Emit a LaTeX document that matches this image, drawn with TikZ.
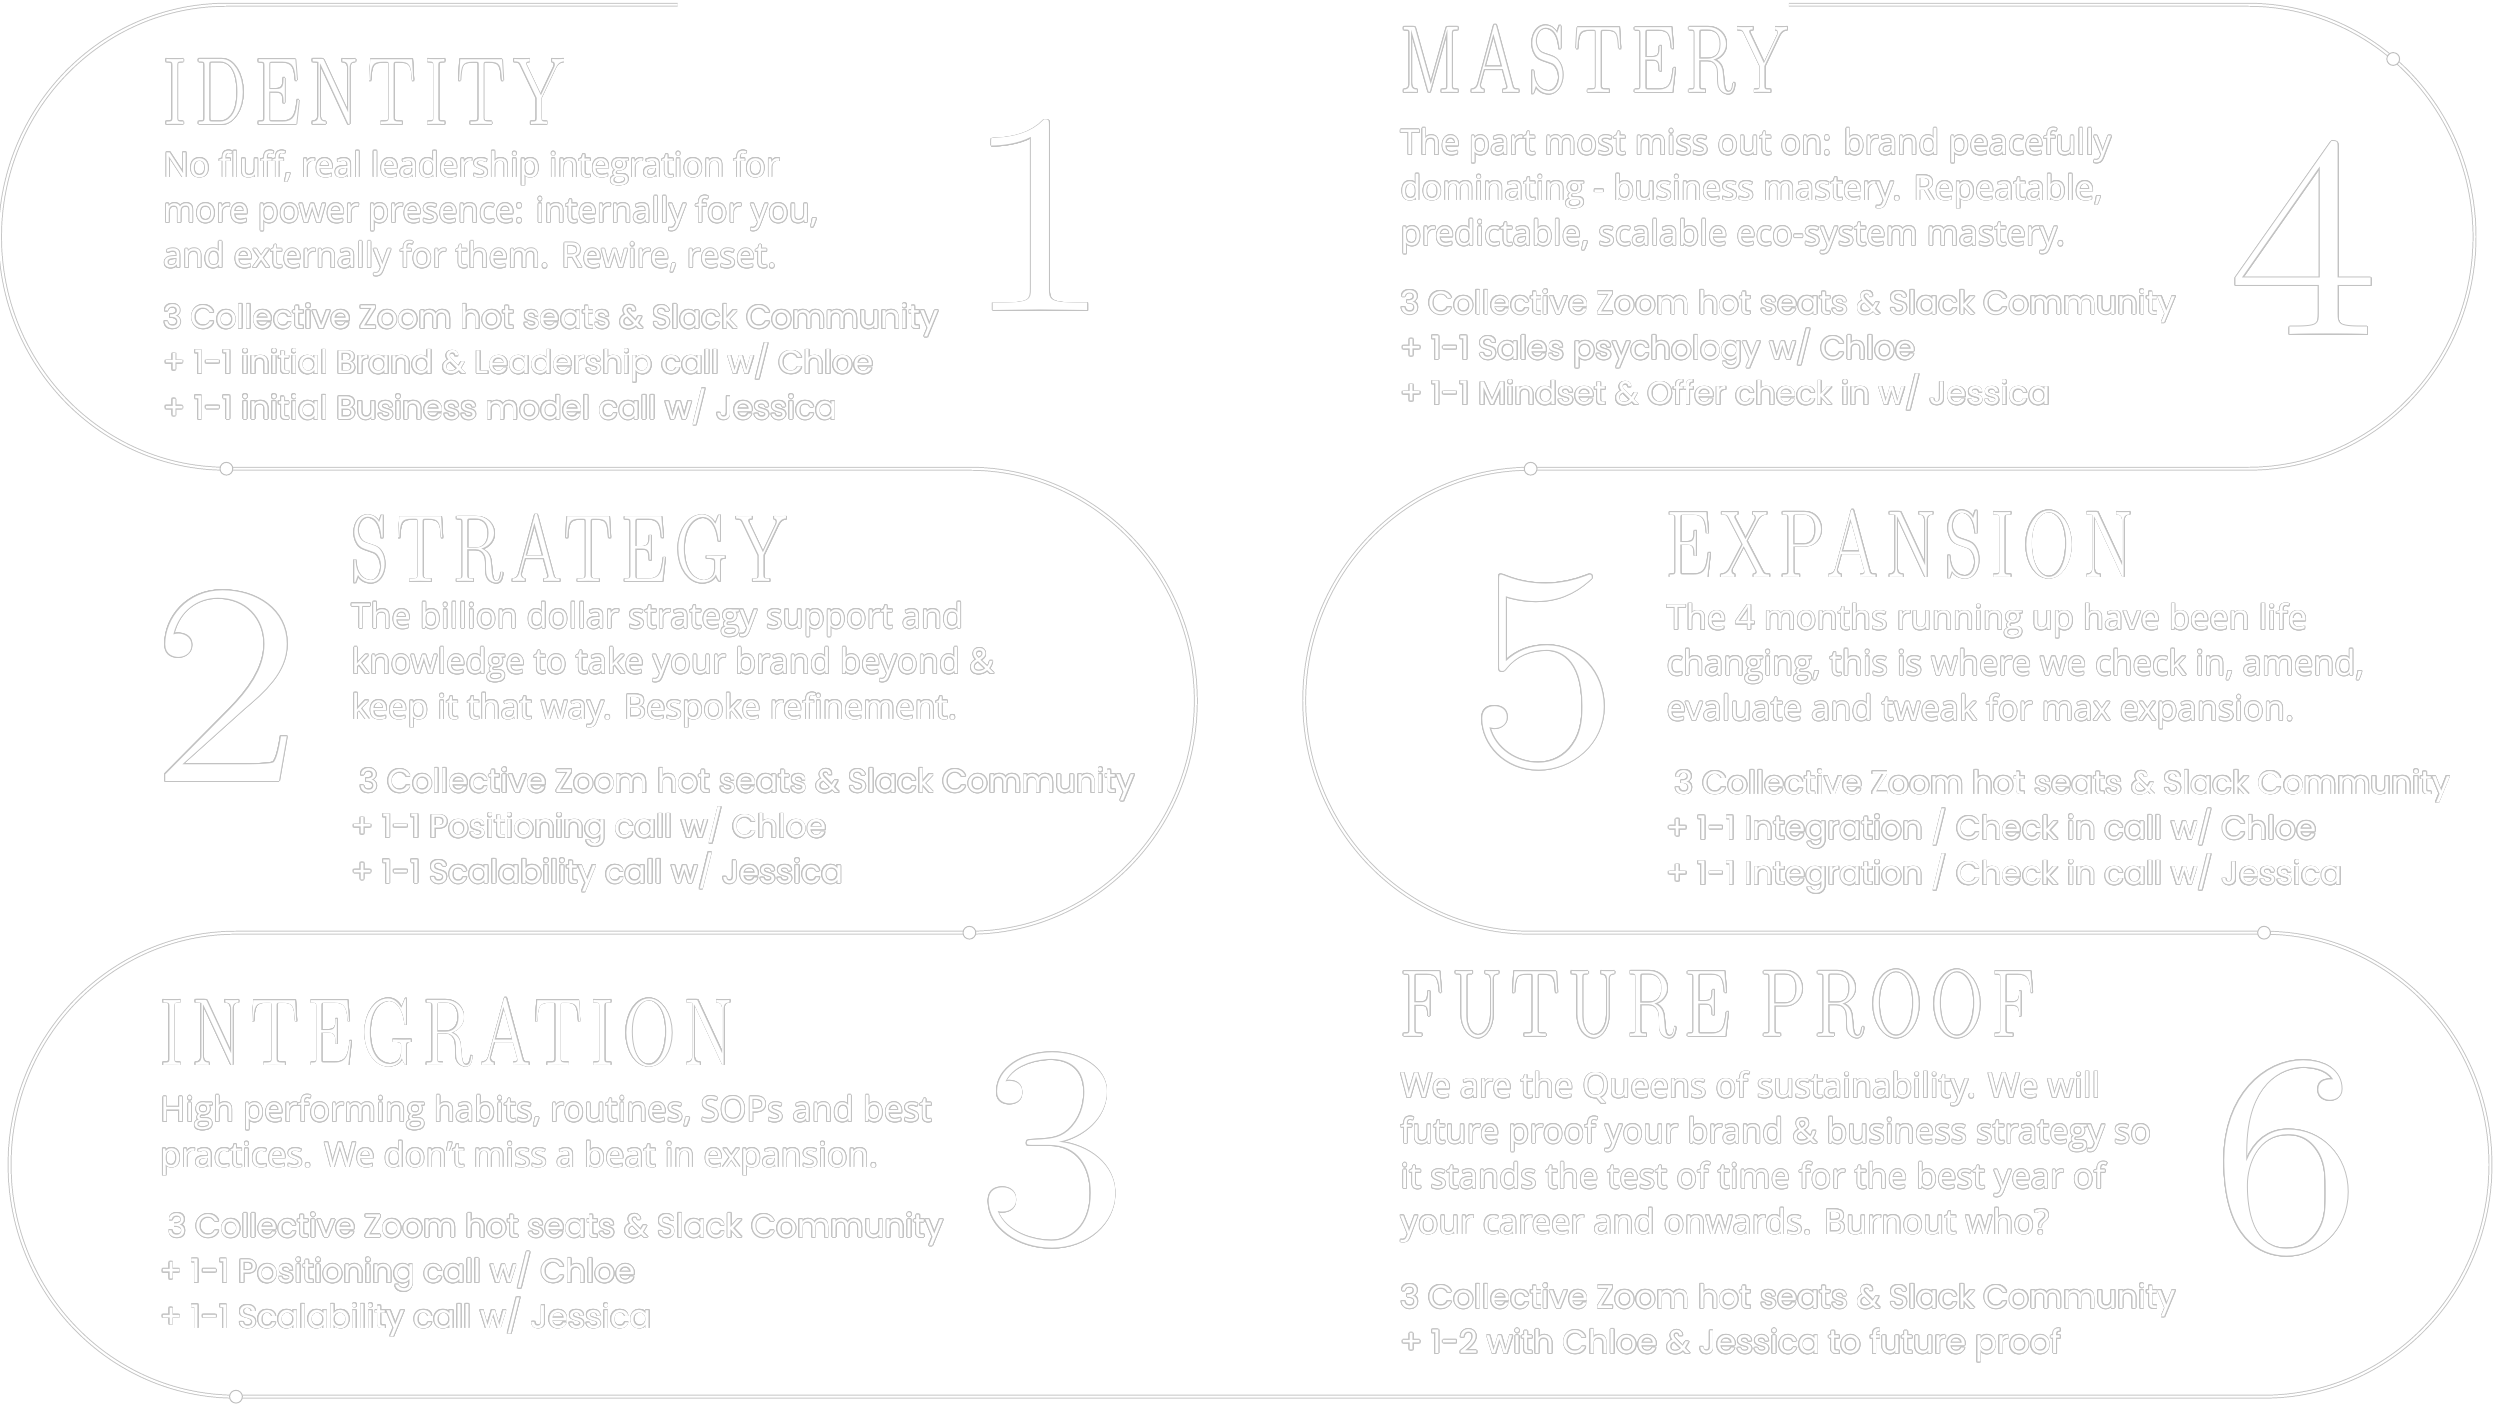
\documentclass[tikz,border=0pt]{standalone}
\usepackage{fontspec}
\setmainfont{Open Sans}
\newfontfamily\listafont{Poppins}
\newfontfamily\cimfont[FakeStretch=0.76,LetterSpace=9]{lmroman17-regular.otf}
\newfontfamily\szamfont[FakeStretch=1.12]{lmroman17-regular.otf}
\usepackage{contour}
\contourlength{0.3pt}
\newcommand{\kont}[1]{\contour{black!24}{#1}}
\usetikzlibrary{positioning}
\tikzset{
  szalag/.style={draw=black!22,line width=0.35pt,double=white,double distance=0.7pt},
  csomo/.style={circle,draw=black!25,fill=white,line width=0.35pt,inner sep=0pt,minimum size=0.16cm},
  cim/.style={anchor=base west,inner sep=0pt,text=white,font=\cimfont\fontsize{34}{34}\selectfont},
  % base = baseline of the last line
  szoveg/.style={anchor=base west,inner sep=0pt,text=white,align=left,font=\fontsize{12.3}{16.2}\selectfont},
  lista/.style={szoveg,font=\listafont\fontsize{11.6}{16.2}\selectfont},
  szam/.style={anchor=base,inner sep=0pt,text=white,font=\szamfont\fontsize{103}{103}\selectfont},
}

\begin{document}
\begin{tikzpicture}[x=0.02cm,y=0.02cm]
  \useasboundingbox (0,0) rectangle (1568,882);
  % the ribbon
  \draw[szalag] (425,879) -- (142,879)
    arc[start angle=90,end angle=270,x radius=142,y radius=145.5] -- (608,588)
    arc[start angle=90,end angle=-90,x radius=142,y radius=145.5] -- (148,297)
    arc[start angle=90,end angle=270,x radius=142,y radius=145.5] -- (1420,6)
    arc[start angle=-90,end angle=90,x radius=142,y radius=145.5] -- (960,297)
    arc[start angle=270,end angle=90,x radius=142,y radius=145.5] -- (1410,588)
    arc[start angle=-90,end angle=90,x radius=142,y radius=145.5] -- (1122,879);
  \node[csomo] (k1) at (142,588) {};
  \node[csomo] (k2) at (608,297) {};
  \node[csomo] (k3) at (148,6) {};
  \node[csomo] (k4) at (1420,297) {};
  \node[csomo] (k5) at (960,588) {};
  \node[csomo] (k6) at (1501,845) {};

  % 1
  \node[cim] (c1) at (102,804) {\kont{IDENTITY}};
  \node[szoveg] (le1) at (102,714) {\kont{No fluff, real leadership integration for}\\
    \kont{more power presence: internally for you,}\\\kont{and externally for them. Rewire, reset.}};
  \node[lista] (li1) at (102,619) {\kont{3 Collective Zoom hot seats \& Slack Community}\\
    \kont{+ 1-1 initial Brand \& Leadership call w/ Chloe}\\\kont{+ 1-1 initial Business model call w/ Jessica}};
  \node[szam] (s1) at (651,687) {\kont{1}};

  % 2
  \node[cim] (c2) at (220,517) {\kont{STRATEGY}};
  \node[szoveg] (le2) at (220,431) {\kont{The billion dollar strategy support and}\\
    \kont{knowledge to take your brand beyond \&}\\\kont{keep it that way. Bespoke refinement.}};
  \node[lista] (li2) at (220,328) {\hspace{0.1cm}\kont{3 Collective Zoom hot seats \& Slack Community}\\
    \kont{+ 1-1 Positioning call w/ Chloe}\\\kont{+ 1-1 Scalability call w/ Jessica}};
  \node[szam] (s2) at (142,392) {\kont{2}};

  % 3
  \node[cim] (c3) at (100,214) {\kont{INTEGRATION}};
  \node[szoveg] (le3) at (100,150) {\kont{High performing habits, routines, SOPs and best}\\
    \kont{practices. We don't miss a beat in expansion.}};
  \node[lista] (li3) at (100,49) {\hspace{0.1cm}\kont{3 Collective Zoom hot seats \& Slack Community}\\
    \kont{+ 1-1 Positioning call w/ Chloe}\\\kont{+ 1-1 Scalability call w/ Jessica}};
  \node[szam] (s3) at (660,102) {\kont{3}};

  % 4
  \node[cim] (c4) at (878,824) {\kont{MASTERY}};
  \node[szoveg] (le4) at (878,728) {\kont{The part most miss out on: brand peacefully}\\
    \kont{dominating - business mastery. Repeatable,}\\\kont{predictable, scalable eco-system mastery.}};
  \node[lista] (li4) at (878,628) {\kont{3 Collective Zoom hot seats \& Slack Community}\\
    \kont{+ 1-1 Sales psychology w/ Chloe}\\\kont{+ 1-1 Mindset \& Offer check in w/ Jessica}};
  \node[szam] (s4) at (1445,672) {\kont{4}};

  % 5
  \node[cim] (c5) at (1045,520) {\kont{EXPANSION}};
  \node[szoveg] (le5) at (1045,430) {\kont{The 4 months running up have been life}\\
    \kont{changing, this is where we check in, amend,}\\\kont{evaluate and tweak for max expansion.}};
  \node[lista] (li5) at (1045,327) {\hspace{0.1cm}\kont{3 Collective Zoom hot seats \& Slack Community}\\
    \kont{+ 1-1 Integration / Check in call w/ Chloe}\\\kont{+ 1-1 Integration / Check in call w/ Jessica}};
  \node[szam] (s5) at (968,402) {\kont{5}};

  % 6
  \node[cim] (c6) at (878,232) {\kont{FUTURE PROOF}};
  \node[szoveg] (le6) at (878,108) {\kont{We are the Queens of sustainability. We will}\\
    \kont{future proof your brand \& business strategy so}\\\kont{it stands the test of time for the best year of}\\
    \kont{your career and onwards. Burnout who?}};
  \node[lista] (li6) at (878,33) {\kont{3 Collective Zoom hot seats \& Slack Community}\\
    \kont{+ 1-2 with Chloe \& Jessica to future proof}};
  \node[szam] (s6) at (1434,97) {\kont{6}};
\end{tikzpicture}
\end{document}
